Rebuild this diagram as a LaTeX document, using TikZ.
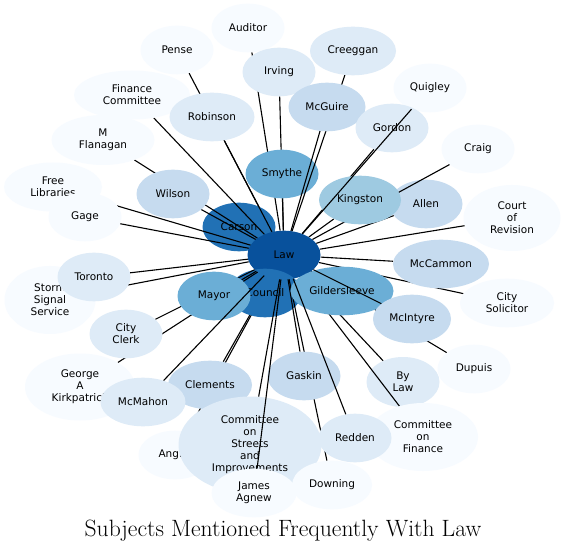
\documentclass[tikz,border=0pt]{standalone}
\usepackage{fontspec}
\usepackage{xcolor}
\usepackage{tikz}
\usetikzlibrary{shapes.geometric}
\newfontfamily\labelsans{DejaVu Sans}
\definecolor{tintpale}{HTML}{F7FBFF}
\definecolor{tintlight}{HTML}{DEEBF7}
\definecolor{tintsoft}{HTML}{C6DBEF}
\definecolor{tintmid}{HTML}{9ECAE1}
\definecolor{tintbright}{HTML}{6BAED6}
\definecolor{tintdeep}{HTML}{2171B5}
\definecolor{tintdark}{HTML}{08519C}
\pgfdeclarelayer{canvas}
\pgfdeclarelayer{linksbelow}
\pgfdeclarelayer{topicsbelow}
\pgfdeclarelayer{linksmid}
\pgfdeclarelayer{linksabove}
\pgfsetlayers{canvas,linksbelow,topicsbelow,linksmid,main,linksabove}

\begin{document}
\begin{tikzpicture}[
    x=1pt, y=-1pt,
    topic/.style={ellipse, minimum width=73pt, minimum height=48.6pt, inner sep=0pt, align=center, font=\labelsans\fontsize{10.5}{12}\selectfont},
    pale/.style={topic, fill=tintpale},
    light/.style={topic, fill=tintlight},
    soft/.style={topic, fill=tintsoft},
    mid/.style={topic, fill=tintmid},
    bright/.style={topic, fill=tintbright},
    deep/.style={topic, fill=tintdeep},
    dark/.style={topic, fill=tintdark},
    line/.style={draw, line width=1.1pt, black}
]

\begin{pgfonlayer}{canvas}
\useasboundingbox[fill=white] (0,0) rectangle (565,553);
\end{pgfonlayer}

% Nodes under the middle links
\begin{pgfonlayer}{topicsbelow}
\node [deep] (carson) at (239,227) {Carson};
\node [dark] (law) at (284,255) {Law};
\node [deep] (council) at (265,293) {Council};
\node [bright] (smythe) at (282,174) {Smythe};
\node [soft] (allen) at (426,204) {Allen};
\node [light, minimum height=50pt] (bylaw) at (403,382) {By\\Law};
\node [soft, minimum width=84pt] (clements) at (210,385) {Clements};
\end{pgfonlayer}

% Nodes
\node [pale] (auditor) at (248,28) {Auditor};
\node [light] (irving) at (279,72) {Irving};
\node [light, minimum width=86pt] (creeggan) at (353,51) {Creeggan};
\node [soft, minimum width=77pt] (mcguire) at (327,107) {McGuire};
\node [pale] (quigley) at (430,88) {Quigley};
\node [light] (gordon) at (392,128) {Gordon};
\node [pale] (pense) at (177,50) {Pense};
\node [pale, minimum width=116pt, minimum height=49pt] (fincomm) at (132,95) {Finance\\Committee};
\node [light, minimum width=85pt] (robinson) at (212,117) {Robinson};
\node [pale, minimum width=103pt, minimum height=50pt] (flanagan) at (103,140) {M\\Flanagan};
\node [pale, minimum width=98pt, minimum height=49pt] (freelib) at (53,187) {Free\\Libraries};
\node [pale] (gage) at (85,217) {Gage};
\node [soft] (wilson) at (173,194) {Wilson};
\node [mid, minimum width=82pt] (kingston) at (360,200) {Kingston};
\node [pale] (craig) at (478,149) {Craig};
\node [pale, minimum width=97pt, minimum height=66pt] (courtrev) at (512,218) {Court\\of\\Revision};
\node [soft, minimum width=96pt] (mccammon) at (441,264) {McCammon};
\node [pale, minimum width=94pt] (citysol) at (507,303) {City\\Solicitor};
\node [bright, minimum width=103pt] (gilder) at (342,291) {Gildersleeve};
\node [soft, minimum width=78pt] (mcintyre) at (412,319) {McIntyre};
\node [pale] (dupuis) at (474,369) {Dupuis};
\node [pale, minimum width=91pt, minimum height=68pt] (storm) at (50,300) {Storm\\Signal\\Service};
\node [light] (toronto) at (94,277) {Toronto};
\node [bright] (mayor) at (214,296) {Mayor};
\node [light] (cityclerk) at (126,334) {City\\Clerk};
\node [pale, minimum width=110pt, minimum height=67pt] (kirkpatrick) at (80,387) {George\\A\\Kirkpatrick};
\node [light, minimum width=85pt] (mcmahon) at (143,402) {McMahon};
\node [pale] (anglin) at (175,455) {Anglin};
\node [light, minimum width=143pt, minimum height=97pt] (streets) at (250,445) {Committee\\on\\Streets\\and\\Improvements};
\node [pale, minimum width=85pt] (agnew) at (254,493) {James\\Agnew};
\node [soft] (gaskin) at (304,376) {Gaskin};
\node [pale, minimum width=110pt, minimum height=68pt] (finance) at (423,437) {Committee\\on\\Finance};
\node [light] (redden) at (355,438) {Redden};
\node [pale, minimum width=80pt] (downing) at (332,485) {Downing};

\node (title) at (283,531) {\fontsize{23.6}{26}\selectfont Subjects Mentioned Frequently With Law};

% Connectors hidden under the nodes
\begin{pgfonlayer}{linksbelow}
\foreach \other in {auditor,irving,pense,storm,clements,anglin,dupuis,citysol,courtrev,bylaw,smythe,carson,council,kingston,toronto,mccammon,gilder}
  \path [line] (law) -- (\other);
\end{pgfonlayer}

% Connectors over the lower nodes
\begin{pgfonlayer}{linksmid}
\foreach \other in {fincomm,flanagan,wilson,gage,freelib,robinson,creeggan,mcguire,gordon,allen,craig,mayor,cityclerk,kirkpatrick,gaskin,downing,streets,finance}
  \path [line] (law) -- (\other);
\end{pgfonlayer}

% Connectors on top
\begin{pgfonlayer}{linksabove}
\foreach \other in {quigley,mcmahon,mcintyre,redden,agnew}
  \path [line] (law) -- (\other);
\end{pgfonlayer}

\end{tikzpicture}
\end{document}
